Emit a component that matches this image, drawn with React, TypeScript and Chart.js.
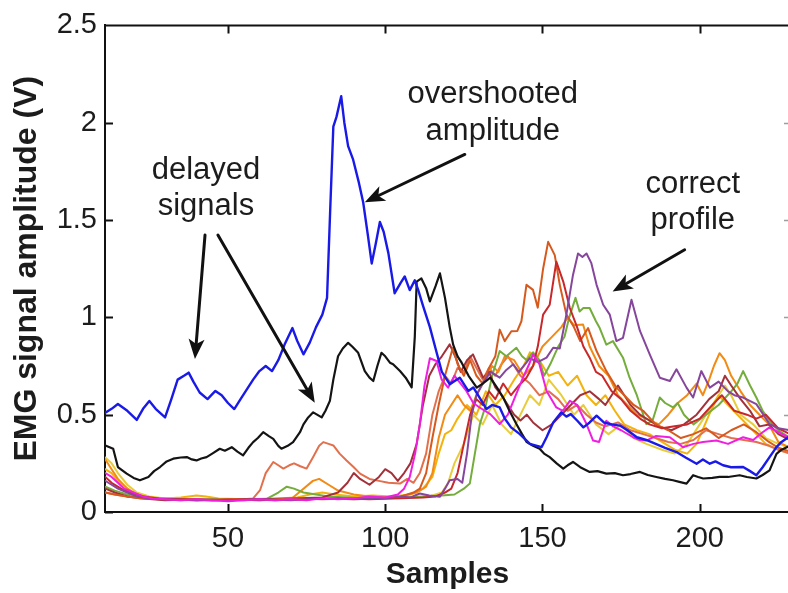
import { useEffect, useRef } from "react";
import { Chart, registerables } from "chart.js";

Chart.register(...registerables);

// ---------- axis settings ----------
const xMin = 10.9;
const xMax = 228.7;
const yMin = 0;
const yMax = 2.5;
const xTickValues = [50, 100, 150, 200];
const yTickValues = [0, 0.5, 1, 1.5, 2, 2.5];
const xTitle = "Samples";
const yTitle = "EMG signal amplitude (V)";

// ---------- series: [sample, amplitude (V)] ----------
const blueSignal = [
  [11, 0.51], [13, 0.53], [15, 0.555], [18, 0.52], [21, 0.473], [23, 0.53], [25, 0.57], [27, 0.53], [30, 0.486],
  [32, 0.58], [34, 0.68], [36, 0.7], [37.5, 0.716], [39, 0.67], [41, 0.614], [43.5, 0.58], [46, 0.622], [48, 0.6],
  [50, 0.56], [52, 0.529], [54, 0.58], [56, 0.63], [58, 0.68], [60, 0.724], [62, 0.75], [64, 0.724], [66, 0.78],
  [68, 0.86], [70.5, 0.945], [72, 0.88], [74, 0.81], [76, 0.87], [78, 0.95], [80, 1.014], [81.5, 1.1], [82.5, 1.55],
  [83.5, 1.98], [84.5, 2.03], [86, 2.136], [87, 2.0], [88.2, 1.88], [89.8, 1.81], [91.5, 1.7], [93, 1.59],
  [94.5, 1.42], [95.7, 1.277], [97, 1.38], [98.3, 1.49], [99.5, 1.44], [101, 1.33], [103, 1.124], [105, 1.18],
  [106.2, 1.21], [107.8, 1.14], [109.4, 1.19], [110.5, 1.14], [112, 1.06], [114.2, 0.95], [116, 0.84], [118, 0.72],
  [120.5, 0.657], [123.7, 0.69], [126.4, 0.622], [128, 0.64], [130, 0.588], [132.2, 0.529], [134, 0.55],
  [136.4, 0.537], [138, 0.48], [140, 0.435], [142.8, 0.4], [146, 0.35], [149.7, 0.333], [151.3, 0.384],
  [153.4, 0.46], [156, 0.512], [157.6, 0.49], [159, 0.503], [161, 0.47], [163, 0.435], [165, 0.46], [167.2, 0.495],
  [169.5, 0.46], [172, 0.45], [174.6, 0.444], [177, 0.42], [180, 0.384], [183, 0.37], [186, 0.35], [189, 0.33],
  [192.6, 0.308], [195.5, 0.28], [199, 0.248], [201, 0.27], [203.2, 0.248], [205, 0.26], [207.4, 0.24], [210, 0.23],
  [213.8, 0.231], [216, 0.21], [218, 0.189], [220, 0.23], [222.2, 0.282], [224.4, 0.333], [226, 0.36], [228.7, 0.39],
];

const blackSignal = [
  [11, 0.342], [13.5, 0.325], [15, 0.231], [17.8, 0.197], [20, 0.175], [22, 0.163], [24.7, 0.18], [26.5, 0.21],
  [28.4, 0.231], [30.5, 0.26], [32.6, 0.274], [35, 0.28], [36.9, 0.282], [38.5, 0.27], [40, 0.265], [41.5, 0.275],
  [43.2, 0.282], [45, 0.3], [47.4, 0.325], [49, 0.315], [51.2, 0.333], [53, 0.31], [54.8, 0.291], [56.5, 0.33],
  [58, 0.359], [59.5, 0.38], [61.2, 0.41], [63, 0.39], [64.4, 0.376], [66, 0.34], [67, 0.325], [69, 0.34],
  [70.7, 0.359], [72.9, 0.41], [74, 0.45], [75.5, 0.486], [77.1, 0.512], [79.8, 0.486], [81, 0.52], [82.4, 0.571],
  [83.5, 0.68], [85, 0.8], [86.5, 0.84], [88.2, 0.869], [89.5, 0.85], [91.4, 0.818], [93.5, 0.724], [95, 0.69],
  [96.2, 0.673], [97.5, 0.75], [98.8, 0.818], [100, 0.8], [101.5, 0.767], [102.5, 0.759], [104.7, 0.724],
  [106.5, 0.69], [108.4, 0.64], [109.4, 0.9], [110, 1.184], [111.5, 1.2], [113, 1.15], [114.2, 1.082], [116, 1.16],
  [117.4, 1.226], [119, 1.1], [120.5, 0.95], [121.6, 0.86], [123, 0.8], [124.3, 0.767], [126.5, 0.7], [129.1, 0.639],
  [131, 0.66], [133.4, 0.69], [135.5, 0.64], [137.5, 0.588], [139.5, 0.52], [141.7, 0.452], [143.5, 0.4],
  [145, 0.359], [147, 0.34], [149.1, 0.325], [150.5, 0.3], [152.3, 0.282], [154.5, 0.25], [156.6, 0.223],
  [158, 0.24], [159.7, 0.257], [162, 0.23], [165, 0.206], [167.5, 0.21], [170.3, 0.197], [173, 0.2], [175.6, 0.189],
  [178, 0.195], [181, 0.206], [183.5, 0.19], [186.2, 0.18], [189, 0.17], [191.5, 0.163], [193.5, 0.155],
  [195.8, 0.146], [197.9, 0.189], [199.5, 0.18], [201.1, 0.172], [204, 0.175], [206.3, 0.18], [209, 0.18],
  [212.7, 0.189], [215, 0.18], [218, 0.172], [220, 0.19], [222.2, 0.214], [224.4, 0.299], [226, 0.32], [228.7, 0.34],
];

const magentaSignal = [
  [11, 0.2], [13, 0.18], [15, 0.15], [17, 0.12], [20, 0.1], [23, 0.08], [26, 0.07], [30, 0.065], [35, 0.06],
  [40, 0.065], [45, 0.06], [50, 0.055], [55, 0.06], [60, 0.065], [65, 0.06], [70, 0.065], [75, 0.06], [80, 0.07],
  [85, 0.065], [90, 0.07], [95, 0.08], [100, 0.075], [104, 0.09], [106, 0.12], [107.8, 0.18], [109.5, 0.3],
  [111, 0.45], [112.5, 0.65], [114.2, 0.79], [116.3, 0.776], [117.9, 0.682], [120, 0.639], [122, 0.7], [124, 0.66],
  [125.8, 0.622], [128, 0.56], [130, 0.537], [133.4, 0.503], [136.4, 0.452], [139, 0.5], [141, 0.58],
  [143.8, 0.69], [145.5, 0.75], [147, 0.81], [149, 0.76], [151.3, 0.622], [154.4, 0.537], [156.5, 0.52],
  [158.7, 0.571], [161, 0.55], [164, 0.452], [166.1, 0.367], [168, 0.36], [170.3, 0.469], [172.5, 0.44],
  [175, 0.42], [178.8, 0.384], [181, 0.37], [183, 0.367], [186, 0.39], [190.5, 0.384], [194.7, 0.333], [198, 0.35],
  [201, 0.36], [205.3, 0.367], [209, 0.35], [213.8, 0.384], [217, 0.37], [220, 0.41], [222.2, 0.435], [225, 0.41],
  [228.7, 0.38],
];

const purpleSignal = [
  [11, 0.16], [13, 0.14], [15, 0.12], [18, 0.1], [21, 0.08], [25, 0.07], [30, 0.065], [40, 0.06], [50, 0.06],
  [60, 0.065], [70, 0.06], [80, 0.07], [90, 0.065], [100, 0.07], [105, 0.08], [108, 0.075], [111, 0.095],
  [114, 0.085], [117.4, 0.078], [119, 0.12], [120.5, 0.163], [123, 0.17], [124.5, 0.15], [126, 0.3], [127.5, 0.5],
  [129, 0.6], [131, 0.66], [133.5, 0.72], [136.4, 0.69], [138.5, 0.73], [140.7, 0.759], [142.5, 0.72],
  [144.5, 0.76], [146, 0.79], [148.5, 0.77], [151.3, 0.793], [153.4, 0.844], [155.5, 0.84], [157.6, 1.014],
  [159.7, 1.218], [161.3, 1.328], [162.7, 1.31], [164, 1.328], [165.5, 1.28], [167.2, 1.167], [169.3, 1.065],
  [171.4, 1.014], [173.5, 0.878], [175.6, 0.895], [178.3, 1.09], [181, 0.93], [184.1, 0.81], [187.3, 0.69],
  [190.5, 0.673], [192.6, 0.733], [195.8, 0.639], [197.9, 0.588], [200.5, 0.724], [203.2, 0.639], [206, 0.67],
  [209, 0.62], [211, 0.6], [213.8, 0.588], [218, 0.554], [222.2, 0.452], [225, 0.43], [228.7, 0.42],
];

const darkOrangeSignal = [
  [11, 0.1], [14, 0.09], [18, 0.08], [22, 0.07], [30, 0.065], [40, 0.06], [50, 0.065], [60, 0.06], [70, 0.07],
  [80, 0.065], [90, 0.07], [100, 0.075], [105, 0.08], [109, 0.1], [111, 0.12], [113, 0.2], [115, 0.38], [117, 0.55],
  [119, 0.7], [121.5, 0.844], [123, 0.76], [125, 0.7], [127, 0.78], [129, 0.7], [131, 0.66], [133, 0.74], [135, 0.8],
  [136.4, 0.937], [138, 0.878], [140.1, 0.929], [142, 0.93], [143.3, 0.98], [144.9, 1.167], [147, 1.141],
  [148.5, 1.05], [150.2, 1.25], [151.8, 1.388], [153.9, 1.32], [155.5, 1.167], [157.6, 1.014], [160, 0.95],
  [162, 0.878], [164.5, 0.945], [167.2, 0.827], [170.3, 0.724], [173.5, 0.639], [176, 0.6], [179, 0.55],
  [182, 0.52], [186, 0.45], [190, 0.42], [194, 0.38], [198, 0.4], [202, 0.43], [206, 0.38], [210, 0.42],
  [214, 0.45], [218, 0.41], [222, 0.36], [225, 0.33], [228.7, 0.31],
];

const redSignal = [
  [11, 0.18], [13, 0.15], [16, 0.12], [19, 0.1], [23, 0.08], [28, 0.07], [35, 0.065], [45, 0.06], [55, 0.065],
  [65, 0.06], [75, 0.065], [85, 0.07], [95, 0.065], [105, 0.07], [112, 0.075], [116, 0.08], [119, 0.1], [121, 0.12],
  [123, 0.2], [125, 0.35], [127, 0.5], [129, 0.58], [131, 0.55], [133, 0.62], [135, 0.58], [137.5, 0.66], [140, 0.6],
  [142.5, 0.65], [144.9, 0.69], [147, 0.75], [148.5, 0.85], [150.2, 1.014], [152.3, 1.065], [154.4, 1.286],
  [156.6, 1.184], [158.7, 1.048], [161, 0.95], [163, 0.85], [165, 0.793], [167, 0.72], [169, 0.7], [172, 0.62],
  [175, 0.58], [178, 0.52], [181, 0.48], [184, 0.45], [188, 0.43], [192, 0.44], [196, 0.45], [200, 0.48],
  [204, 0.55], [207, 0.6], [209, 0.56], [211, 0.52], [215, 0.5], [218, 0.48], [221, 0.5], [225, 0.43], [228.7, 0.4],
];

const darkRedSignal = [
  [11, 0.12], [14, 0.1], [18, 0.08], [22, 0.07], [30, 0.06], [40, 0.065], [50, 0.06], [60, 0.065], [70, 0.07],
  [80, 0.075], [85, 0.1], [88, 0.15], [90, 0.2], [92, 0.17], [95, 0.14], [98, 0.18], [100, 0.22], [102, 0.2],
  [104, 0.16], [106, 0.2], [108, 0.25], [110, 0.35], [112, 0.55], [114, 0.7], [116, 0.76], [118, 0.8],
  [120.5, 0.861], [122.5, 0.79], [124, 0.72], [126, 0.78], [127.9, 0.81], [129.5, 0.75], [131.1, 0.69], [133, 0.72],
  [135, 0.64], [137, 0.6], [139, 0.55], [141, 0.5], [143, 0.47], [145, 0.5], [147, 0.46], [150, 0.42], [153, 0.45],
  [156, 0.5], [159, 0.55], [162, 0.6], [165, 0.62], [168, 0.58], [170, 0.55], [172, 0.6], [174, 0.65], [176, 0.6],
  [178, 0.55], [181, 0.5], [184, 0.47], [187, 0.44], [191, 0.42], [195, 0.45], [199, 0.5], [203, 0.58], [206, 0.62],
  [208, 0.7], [210, 0.65], [213, 0.58], [216, 0.52], [219, 0.44], [222, 0.45], [225, 0.4], [228.7, 0.37],
];

const salmonSignal = [
  [11, 0.1], [14, 0.09], [18, 0.08], [25, 0.07], [35, 0.065], [45, 0.06], [55, 0.065], [58, 0.07], [60.2, 0.112],
  [62, 0.2], [64.4, 0.257], [66, 0.24], [67.6, 0.223], [69.5, 0.24], [71, 0.25], [73, 0.235], [75, 0.223], [77, 0.28],
  [79, 0.34], [80.3, 0.359], [82, 0.35], [83.5, 0.342], [85.5, 0.3], [87.7, 0.265], [90, 0.23], [92, 0.197],
  [95, 0.17], [98, 0.16], [101, 0.15], [104.7, 0.146], [107, 0.17], [109, 0.15], [111, 0.2], [113, 0.3], [115, 0.5],
  [117, 0.62], [119, 0.7], [121, 0.66], [123, 0.74], [125, 0.72], [127, 0.8], [129, 0.74], [131, 0.68], [133, 0.74],
  [135, 0.7], [137, 0.76], [139, 0.8], [141, 0.75], [143, 0.7], [146, 0.66], [149, 0.6], [152, 0.62], [155, 0.58],
  [158, 0.52], [161, 0.55], [164, 0.5], [167, 0.46], [170, 0.44], [174, 0.46], [178, 0.42], [182, 0.4], [186, 0.38],
  [190, 0.36], [194, 0.35], [198, 0.37], [202, 0.42], [206, 0.4], [210, 0.38], [214, 0.37], [218, 0.36],
  [222, 0.34], [225, 0.32], [228.7, 0.3],
];

const greenSignal = [
  [11, 0.13], [14, 0.11], [18, 0.09], [22, 0.075], [28, 0.065], [35, 0.06], [45, 0.065], [55, 0.06], [62, 0.065],
  [66, 0.1], [68.7, 0.13], [71, 0.12], [74, 0.1], [78, 0.09], [82, 0.08], [88, 0.075], [95, 0.07], [105, 0.075],
  [112, 0.08], [118, 0.085], [122, 0.09], [125, 0.12], [126.9, 0.146], [128.5, 0.3], [130.1, 0.452], [132, 0.55],
  [134, 0.7], [136.4, 0.827], [138.5, 0.8], [141.7, 0.844], [143.5, 0.8], [145, 0.78], [147, 0.82], [149, 0.78],
  [150.5, 0.7], [152.5, 0.76], [155, 0.85], [157, 0.9], [158.5, 1.0], [160.5, 1.1], [161.8, 1.03], [163, 1.048],
  [165, 1.048], [167, 0.98], [168.2, 0.945], [170.3, 0.86], [172.4, 0.878], [175.6, 0.793], [177.7, 0.69],
  [180, 0.6], [183, 0.452], [185, 0.47], [187.3, 0.588], [189, 0.56], [191.5, 0.537], [193, 0.56], [195, 0.5],
  [198, 0.45], [202, 0.5], [206, 0.55], [210, 0.62], [212, 0.66], [213.8, 0.724], [216, 0.65], [218, 0.588],
  [220, 0.52], [222.2, 0.469], [225, 0.42], [228.7, 0.38],
];

const orangeSignal = [
  [11, 0.27], [13, 0.22], [15, 0.17], [18, 0.12], [21, 0.09], [25, 0.075], [30, 0.065], [40, 0.06], [50, 0.065],
  [60, 0.06], [70, 0.065], [74, 0.12], [77, 0.16], [79, 0.17], [82, 0.14], [85, 0.11], [90, 0.09], [95, 0.08],
  [100, 0.075], [105, 0.08], [110, 0.1], [113, 0.13], [115, 0.2], [117, 0.38], [119, 0.5], [121, 0.55], [123, 0.6],
  [125, 0.55], [127, 0.52], [129, 0.6], [131, 0.66], [134, 0.75], [136, 0.72], [138, 0.8], [141, 0.78], [144, 0.7],
  [147, 0.75], [150, 0.85], [153, 0.9], [156, 0.95], [158, 1.0], [160, 0.96], [162.9, 0.963], [165, 0.85],
  [168, 0.75], [171, 0.7], [174, 0.6], [177, 0.55], [180, 0.5], [183, 0.48], [187, 0.45], [190, 0.5], [193, 0.56],
  [196, 0.6], [199, 0.66], [201, 0.6], [203, 0.68], [204.5, 0.75], [206.3, 0.816], [208, 0.78], [210, 0.7],
  [213, 0.62], [216, 0.55], [219, 0.5], [222, 0.45], [225, 0.36], [228.7, 0.33],
];

const goldSignal = [
  [11, 0.22], [13, 0.2], [15, 0.16], [18, 0.12], [21, 0.09], [25, 0.075], [30, 0.07], [35, 0.075], [40, 0.085],
  [43, 0.08], [47, 0.07], [55, 0.065], [65, 0.07], [72, 0.075], [76, 0.09], [80, 0.1], [84, 0.09], [90, 0.08],
  [96, 0.085], [102, 0.08], [108, 0.09], [112, 0.12], [115, 0.18], [117, 0.3], [119, 0.4], [121, 0.42], [123, 0.48],
  [126, 0.55], [129, 0.5], [132, 0.62], [135, 0.55], [138, 0.6], [141, 0.68], [144, 0.75], [146, 0.82], [149, 0.78],
  [152, 0.7], [155, 0.72], [158, 0.65], [161, 0.7], [164, 0.6], [167, 0.55], [170, 0.6], [173, 0.52], [176, 0.45],
  [180, 0.42], [184, 0.4], [188, 0.36], [192, 0.32], [196, 0.3], [199, 0.35], [203, 0.5], [206, 0.6], [209, 0.55],
  [212, 0.5], [215, 0.45], [218, 0.4], [221, 0.35], [225, 0.32], [228.7, 0.3],
];

const yellowSignal = [
  [11, 0.28], [13, 0.25], [15, 0.2], [18, 0.14], [21, 0.1], [25, 0.08], [30, 0.07], [40, 0.06], [50, 0.065],
  [60, 0.06], [70, 0.065], [80, 0.07], [90, 0.065], [100, 0.07], [108, 0.075], [114, 0.08], [118, 0.1], [120, 0.15],
  [122, 0.25], [125, 0.35], [128, 0.5], [131, 0.45], [134, 0.55], [137, 0.45], [140, 0.4], [143, 0.5], [146, 0.6],
  [149, 0.55], [152, 0.68], [156, 0.6], [160, 0.5], [163, 0.55], [167, 0.45], [171, 0.4], [175, 0.45], [179, 0.38],
  [183, 0.35], [188, 0.32], [192, 0.3], [196, 0.35], [200, 0.45], [204, 0.55], [208, 0.65], [210, 0.6], [213, 0.5],
  [217, 0.45], [221, 0.38], [225, 0.35], [228.7, 0.33],
];

// ---------- annotations (data coordinates) ----------
const annotationLabels = [
  { x: 43, y: 1.709, text: "delayed" },
  { x: 43, y: 1.526, text: "signals" },
  { x: 134.2, y: 2.102, text: "overshooted" },
  { x: 134.2, y: 1.913, text: "amplitude" },
  { x: 197.8, y: 1.638, text: "correct" },
  { x: 197.8, y: 1.454, text: "profile" },
];
const annotationArrows = [
  { from: [42.7, 1.423], to: [39.5, 0.786] },
  { from: [46.8, 1.423], to: [77.6, 0.561] },
  { from: [125.3, 1.837], to: [93.5, 1.592] },
  { from: [195.2, 1.347], to: [172.3, 1.133] },
];

const FONT = "'Liberation Sans', Arial, Helvetica, sans-serif";
const TEXT = "#1c1c1c";

const seriesList = [
  { name: "blue", data: blueSignal, color: "#1a1ae8", width: 2.4 },
  { name: "black", data: blackSignal, color: "#141414", width: 2.2 },
  { name: "magenta", data: magentaSignal, color: "#f01fe0", width: 2 },
  { name: "purple", data: purpleSignal, color: "#85469c", width: 2 },
  { name: "red", data: redSignal, color: "#c9282b", width: 2 },
  { name: "darkorange", data: darkOrangeSignal, color: "#d65a1e", width: 2 },
  { name: "darkred", data: darkRedSignal, color: "#a3313a", width: 2 },
  { name: "green", data: greenSignal, color: "#74ad3b", width: 2 },
  { name: "orange", data: orangeSignal, color: "#f28a14", width: 2 },
  { name: "salmon", data: salmonSignal, color: "#e2704c", width: 2 },
  { name: "gold", data: goldSignal, color: "#f4b30c", width: 2 },
  { name: "yellow", data: yellowSignal, color: "#e8cc3a", width: 2 },
];

const framePlugin = {
  id: "matlabFrame",
  afterDraw(chart: any) {
    const { ctx, chartArea, scales } = chart;
    const { left, right, top, bottom } = chartArea;
    const xs = scales.x;
    const ys = scales.y;
    ctx.save();
    ctx.strokeStyle = "#111";
    ctx.lineWidth = 2;
    ctx.beginPath();
    ctx.moveTo(left - 1, top);
    ctx.lineTo(right + 10, top);
    // inward tick marks
    const tl = 8;
    for (const v of xTickValues) {
      const px = Math.round(xs.getPixelForValue(v)) + 0.5;
      ctx.moveTo(px, bottom);
      ctx.lineTo(px, bottom - tl);
      ctx.moveTo(px, top);
      ctx.lineTo(px, top + tl);
    }
    for (const v of yTickValues) {
      const py = Math.round(ys.getPixelForValue(v)) + 0.5;
      ctx.moveTo(left, py);
      ctx.lineTo(left + tl, py);
    }
    ctx.stroke();
    // faint tick marks of the (cropped) right spine
    ctx.strokeStyle = "rgba(40,40,40,0.45)";
    ctx.lineWidth = 1.5;
    ctx.beginPath();
    for (const v of yTickValues.slice(1, -1)) {
      const py = Math.round(ys.getPixelForValue(v)) + 0.5;
      ctx.moveTo(right, py);
      ctx.lineTo(right - 6, py);
    }
    ctx.stroke();

    // annotation texts
    ctx.fillStyle = TEXT;
    ctx.font = `31px ${FONT}`;
    ctx.textAlign = "center";
    ctx.textBaseline = "alphabetic";
    for (const a of annotationLabels) {
      ctx.fillText(a.text, xs.getPixelForValue(a.x), ys.getPixelForValue(a.y));
    }
    // arrows
    ctx.strokeStyle = "#111";
    ctx.fillStyle = "#111";
    ctx.lineWidth = 3;
    ctx.lineCap = "round";
    for (const arr of annotationArrows) {
      const x1 = xs.getPixelForValue(arr.from[0]);
      const y1 = ys.getPixelForValue(arr.from[1]);
      const x2 = xs.getPixelForValue(arr.to[0]);
      const y2 = ys.getPixelForValue(arr.to[1]);
      const ang = Math.atan2(y2 - y1, x2 - x1);
      const hl = 20;
      const hw = 8;
      const bx = x2 - hl * Math.cos(ang);
      const by = y2 - hl * Math.sin(ang);
      ctx.beginPath();
      ctx.moveTo(x1, y1);
      ctx.lineTo(bx + 4 * Math.cos(ang), by + 4 * Math.sin(ang));
      ctx.stroke();
      ctx.beginPath();
      ctx.moveTo(x2, y2);
      ctx.lineTo(bx - hw * Math.sin(ang), by + hw * Math.cos(ang));
      ctx.lineTo(bx + 5 * Math.cos(ang), by + 5 * Math.sin(ang));
      ctx.lineTo(bx + hw * Math.sin(ang), by - hw * Math.cos(ang));
      ctx.closePath();
      ctx.fill();
    }
    ctx.restore();
  },
};

export default function App() {
  const canvasRef = useRef<HTMLCanvasElement | null>(null);

  useEffect(() => {
    const canvas = canvasRef.current;
    if (!canvas) return;
    const chart = new Chart(canvas, {
      type: "line",
      data: {
        datasets: seriesList.map((s) => ({
          label: s.name,
          data: s.data.map(([x, y]) => ({ x, y })),
          borderColor: s.color,
          backgroundColor: s.color,
          borderWidth: s.width,
          pointRadius: 0,
          tension: 0,
          fill: false,
        })),
      },
      options: {
        responsive: false,
        devicePixelRatio: 1,
        animation: false,
        layout: { padding: { top: 22, right: 10, left: 0, bottom: 0 } },
        plugins: {
          legend: { display: false },
          tooltip: { enabled: false },
        },
        elements: { line: { borderJoinStyle: "round", borderCapStyle: "round" } },
        scales: {
          x: {
            type: "linear",
            min: xMin,
            max: xMax,
            afterBuildTicks: (s: any) => {
              s.ticks = xTickValues.map((v) => ({ value: v }));
            },
            afterFit: (s: any) => {
              s.height = 81;
            },
            grid: { display: false, drawTicks: false },
            border: { display: true, color: "#111", width: 2 },
            ticks: {
              color: TEXT,
              font: { family: FONT, size: 29 },
              padding: 10,
              maxRotation: 0,
              autoSkip: false,
              callback: (v: any) => String(v),
            },
            title: {
              display: true,
              text: xTitle,
              color: TEXT,
              font: { family: FONT, size: 30, weight: "bold" },
              padding: { top: 1, bottom: 0 },
            },
          },
          y: {
            type: "linear",
            min: yMin,
            max: yMax,
            afterBuildTicks: (s: any) => {
              s.ticks = yTickValues.map((v) => ({ value: v }));
            },
            afterFit: (s: any) => {
              s.width = 105;
            },
            grid: { display: false, drawTicks: false },
            border: { display: true, color: "#111", width: 2 },
            ticks: {
              color: TEXT,
              font: { family: FONT, size: 29 },
              padding: 8,
              autoSkip: false,
              callback: (v: any) => String(v),
            },
            title: {
              display: true,
              text: yTitle,
              color: TEXT,
              font: { family: FONT, size: 32, weight: "bold" },
              padding: { top: 8, bottom: 0 },
            },
          },
        },
      },
      plugins: [framePlugin],
    });
    return () => chart.destroy();
  }, []);

  return (
    <div
      style={{
        position: "absolute",
        left: 0,
        top: 0,
        width: 788,
        height: 593,
        overflow: "hidden",
        background: "#ffffff",
      }}
    >
      <canvas
        ref={canvasRef}
        width={800}
        height={593}
        style={{ display: "block", width: 800, height: 593 }}
      />
    </div>
  );
}
